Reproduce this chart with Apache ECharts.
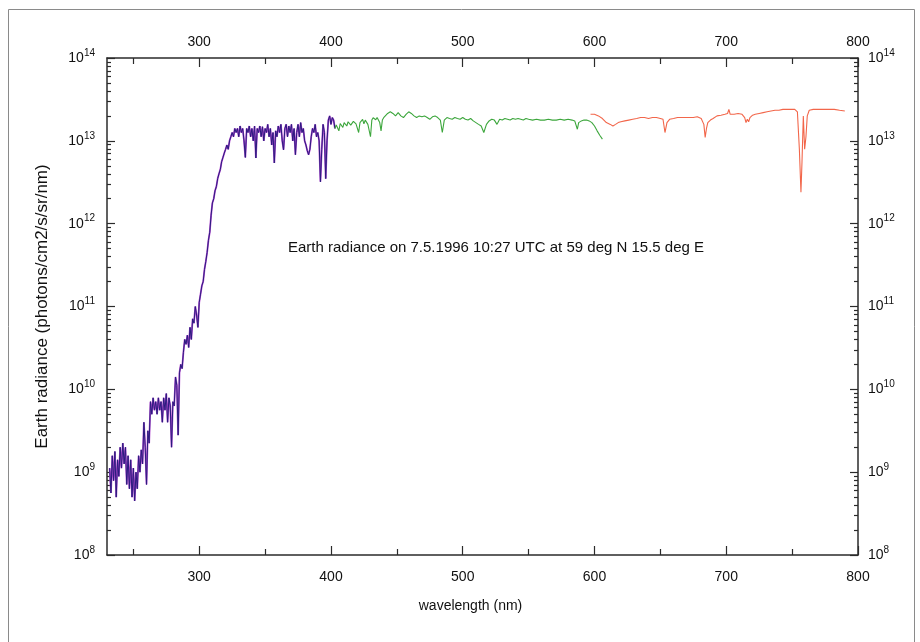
<!DOCTYPE html>
<html>
<head>
<meta charset="utf-8">
<script src="https://cdn.jsdelivr.net/npm/echarts@6/dist/echarts.min.js"></script>
<style>
html,body{margin:0;padding:0;background:#fff;}
#chart{width:920px;height:642px;}
</style>
</head>
<body>
<div id="chart"></div>
<script>
// ---------- data ----------
const xLabelValues = [300, 400, 500, 600, 700, 800];
const xMinorTickValues = [250, 350, 450, 550, 650, 750];
const yLabelValues = [1e8, 1e9, 1e10, 1e11, 1e12, 1e13, 1e14];
const yLabelExponents = ['8', '9', '10', '11', '12', '13', '14'];
const yMinorTickValues = [
  2e8,3e8,4e8,5e8,6e8,7e8,8e8,9e8,
  2e9,3e9,4e9,5e9,6e9,7e9,8e9,9e9,
  2e10,3e10,4e10,5e10,6e10,7e10,8e10,9e10,
  2e11,3e11,4e11,5e11,6e11,7e11,8e11,9e11,
  2e12,3e12,4e12,5e12,6e12,7e12,8e12,9e12,
  2e13,3e13,4e13,5e13,6e13,7e13,8e13,9e13
];

// UV channel (purple)
const uvWl = [232,233,234,235,236,237,238,239,240,241,242,243,244,245,246,247,248,249,250,
  251,252,253,254,255,256,257,258,259,260,261,262,263,264,265,266,267,268,269,270,
  271,272,273,274,275,276,277,278,279,280,281,282,283,284,285,286,287,288,289,290,
  291,292,293,294,295,296,297,298,299,300,301,302,303,304,305,306,307,308,309,310,
  311,312,313,314,315,316,317,318,319,320,321,322,323,324,325,326,327,328,329,330,
  331,332,333,334,335,336,337,338,339,340,341,342,343,344,345,346,347,348,349,350,
  351,352,353,354,355,356,357,358,359,360,361,362,363,364,365,366,367,368,369,370,
  371,372,373,374,375,376,377,378,379,380,381,382,383,384,385,386,387,388,389,390,
  391,392,393,394,395,396,397,398,399,400,401,402,403];
const uvVal = [1.12e9,5.6e8,1.58e9,7.9e8,1.78e9,5.0e8,1.41e9,8.9e8,2.0e9,1.12e9,2.24e9,1.26e9,2.0e9,7.1e8,1.58e9,6.3e8,1.41e9,5.0e8,1.12e9,
  4.5e8,1.0e9,6.3e8,1.58e9,1.0e9,1.86e9,1.26e9,4.0e9,2.0e9,7.1e8,3.16e9,2.24e9,7.1e9,5.0e9,7.9e9,5.6e9,7.1e9,5.0e9,7.9e9,5.6e9,
  7.1e9,4.0e9,7.9e9,5.6e9,8.9e9,4.0e9,7.9e9,6.3e9,2.0e9,7.1e9,6.3e9,1.41e10,1.12e10,2.8e9,1.58e10,2.0e10,1.78e10,2.8e10,4.0e10,3.5e10,
  4.5e10,3.2e10,5.6e10,4.0e10,7.1e10,6.3e10,1.0e11,7.9e10,5.6e10,1.12e11,1.41e11,1.78e11,2.0e11,2.8e11,3.5e11,4.5e11,6.3e11,7.9e11,1.26e12,1.78e12,
  2.0e12,2.5e12,2.8e12,3.5e12,4.0e12,4.5e12,5.6e12,6.3e12,7.1e12,7.9e12,8.9e12,7.9e12,1.0e13,1.12e13,1.26e13,1.12e13,1.41e13,1.26e13,1.41e13,1.12e13,
  1.51e13,1.26e13,1.41e13,1.0e13,6.3e12,1.41e13,1.26e13,1.51e13,1.12e13,1.41e13,1.0e13,1.51e13,6.2e12,1.41e13,1.26e13,1.51e13,1.12e13,1.48e13,1.0e13,1.41e13,
  1.26e13,1.58e13,1.12e13,1.41e13,8.9e12,1.26e13,5.4e12,1.32e13,1.12e13,1.51e13,1.26e13,1.58e13,1.0e13,7.8e12,1.41e13,1.58e13,1.12e13,1.51e13,1.26e13,1.58e13,
  1.0e13,1.41e13,6.8e12,1.26e13,1.58e13,1.12e13,1.66e13,1.26e13,1.41e13,1.0e13,8.9e12,7.6e12,6.8e12,7.9e12,1.12e13,1.41e13,1.26e13,1.58e13,1.12e13,1.26e13,
  1.0e13,3.2e12,7.9e12,1.58e13,1.26e13,3.5e12,1.0e13,1.78e13,2.0e13,1.58e13,1.91e13,1.78e13,1.41e13];

// visible channel (green)
const visWl = [403,404,405,406,407,408,409,410,411,412,413,414,415,416,417,418,419,420,421,422,423,424,425,426,427,428,429,430,431,432,433,434,435,436,437,438,439,440,
  441,443,445,447,449,451,453,455,457,459,461,463,465,467,469,471,473,475,477,479,481,483,484.5,
  486,488,490,492,494,496,498,500,502,504,506,508,510,512,514,516,517,518,520,522,524,526,527,528,530,
  532,534,536,538,540,542,544,546,548,550,553,556,559,562,565,568,571,574,577,580,583,585,587,588,
  590,592,594,596,598,600,602,604,606];
const visVal = [1.41e13,1.55e13,1.58e13,1.32e13,1.62e13,1.58e13,1.45e13,1.66e13,1.6e13,1.51e13,1.7e13,1.74e13,1.55e13,1.58e13,1.72e13,1.78e13,1.6e13,1.66e13,1.26e13,1.66e13,1.75e13,1.82e13,1.6e13,1.78e13,1.7e13,1.58e13,1.66e13,1.12e13,1.78e13,1.9e13,2.0e13,1.8e13,1.91e13,1.85e13,1.66e13,1.32e13,1.78e13,1.9e13,
  2.0e13,2.14e13,2.24e13,2.14e13,2.0e13,2.19e13,2.0e13,1.91e13,2.09e13,2.24e13,2.14e13,2.0e13,1.91e13,2.0e13,1.95e13,2.0e13,1.91e13,1.82e13,1.95e13,2.0e13,1.91e13,1.78e13,1.26e13,
  1.78e13,1.91e13,1.86e13,1.82e13,1.91e13,1.86e13,1.82e13,1.91e13,1.82e13,1.78e13,1.86e13,1.74e13,1.66e13,1.58e13,1.51e13,1.26e13,1.32e13,1.58e13,1.74e13,1.82e13,1.78e13,1.58e13,1.7e13,1.82e13,1.78e13,
  1.86e13,1.82e13,1.78e13,1.86e13,1.82e13,1.86e13,1.82e13,1.78e13,1.86e13,1.82e13,1.78e13,1.82e13,1.78e13,1.78e13,1.82e13,1.78e13,1.78e13,1.82e13,1.78e13,1.82e13,1.78e13,1.74e13,1.38e13,1.66e13,
  1.74e13,1.78e13,1.78e13,1.74e13,1.66e13,1.51e13,1.32e13,1.17e13,1.05e13];

// near-IR channel (red)
const irWl = [597,600,603,606,609,612,614,616,618,620,623,626,629,632,635,638,641,644,647,650,652,653.5,655,657,
  660,663,666,669,672,675,678,681,683,684,685,686,688,690,693,696,699,701,702,703,706,709,712,714,715,716,717,718,
  720,722,725,728,731,734,737,740,743,746,749,752,754,755.5,756.7,757.5,758.5,759.5,760.5,761.5,763,766,770,774,778,782,786,790];
const irVal = [2.09e13,2.09e13,2.0e13,1.86e13,1.66e13,1.58e13,1.51e13,1.58e13,1.66e13,1.70e13,1.74e13,1.78e13,1.82e13,1.86e13,1.91e13,1.91e13,1.86e13,1.91e13,1.91e13,1.86e13,1.82e13,1.26e13,1.66e13,1.82e13,
  1.86e13,1.91e13,1.91e13,1.91e13,1.91e13,1.91e13,1.95e13,1.86e13,1.58e13,1.10e13,1.41e13,1.66e13,1.78e13,1.86e13,2.0e13,2.04e13,2.09e13,2.14e13,2.40e13,2.09e13,2.09e13,2.14e13,2.09e13,1.91e13,1.66e13,1.82e13,1.70e13,1.91e13,
  2.04e13,2.09e13,2.14e13,2.19e13,2.24e13,2.29e13,2.34e13,2.34e13,2.40e13,2.40e13,2.40e13,2.40e13,2.24e13,7.9e12,2.4e12,5.6e12,2.0e13,7.9e12,1.12e13,2.0e13,2.34e13,2.40e13,2.40e13,2.40e13,2.40e13,2.40e13,2.34e13,2.29e13];

const annotation = 'Earth radiance on 7.5.1996 10:27 UTC at 59 deg N 15.5 deg E';
const xName = 'wavelength (nm)';
const yName = 'Earth radiance (photons/cm2/s/sr/nm)';

// ---------- chart ----------
const FONT = '"Liberation Sans", Arial, sans-serif';
const AXC = '#2b2b2b';
const pairs = (w, v) => w.map((x, i) => [x, v[i]]);
const expOf = v => yLabelExponents[yLabelValues.indexOf(v)] || '';

const richY = {
  b: {fontFamily: FONT, fontSize: 14, color: '#111'},
  s: {fontFamily: FONT, fontSize: 10, color: '#111', padding: [0, 0, 10, 0]}
};

function xAx(pos, major) {
  return {
    type: 'value', position: pos, min: 230, max: 800,
    axisLine: {show: major, onZero: false, lineStyle: {color: AXC, width: 1.5}},
    axisTick: {show: true, inside: true, length: major ? 9 : 6,
      customValues: major ? xLabelValues : xMinorTickValues,
      lineStyle: {color: AXC, width: 1.2}},
    axisLabel: {show: major, customValues: xLabelValues, margin: pos === 'bottom' ? 15 : 9,
      fontFamily: FONT, fontSize: 14, color: '#111'},
    splitLine: {show: false},
    name: (major && pos === 'bottom') ? xName : '',
    nameLocation: 'middle', nameGap: 44,
    nameTextStyle: {fontFamily: FONT, fontSize: 14, color: '#111', padding: [0, 24, 0, 0]}
  };
}
function yAx(pos, major) {
  return {
    type: 'log', logBase: 10, position: pos, min: 1e8, max: 1e14,
    axisLine: {show: major, onZero: false, lineStyle: {color: AXC, width: 1.5}},
    axisTick: {show: true, inside: true, length: major ? 8 : 4,
      customValues: major ? yLabelValues : yMinorTickValues,
      lineStyle: {color: AXC, width: 1.2}},
    axisLabel: {show: major, customValues: yLabelValues, margin: pos === 'left' ? 12 : 10,
      formatter: v => '{b|10}{s|' + expOf(v) + '}', rich: richY},
    splitLine: {show: false},
    name: (major && pos === 'left') ? yName : '',
    nameLocation: 'middle', nameGap: 56, nameRotate: 90,
    nameTextStyle: {fontFamily: FONT, fontSize: 17, color: '#111'}
  };
}

const chart = echarts.init(document.getElementById('chart'), null, {renderer: 'canvas'});
chart.setOption({
  animation: false,
  backgroundColor: '#ffffff',
  grid: {left: 107, right: 62, top: 58, bottom: 87, containLabel: false},
  xAxis: [xAx('bottom', true), xAx('bottom', false), xAx('top', true), xAx('top', false)],
  yAxis: [yAx('left', true), yAx('left', false), yAx('right', true), yAx('right', false)],
  graphic: [
    {type: 'rect', left: 6, top: 7, shape: {width: 906, height: 650},
      style: {fill: 'none', stroke: '#8a8a8a', lineWidth: 1}, silent: true},
    {type: 'text', x: 496, y: 248, style: {text: annotation, font: '15px ' + FONT,
      fill: '#111', align: 'center', verticalAlign: 'middle'}}
  ],
  series: [
    {type: 'line', data: pairs(uvWl, uvVal), showSymbol: false, xAxisIndex: 0, yAxisIndex: 0,
      lineStyle: {color: '#b24ad0', width: 1.8}, z: 2},
    {type: 'line', data: pairs(uvWl, uvVal), showSymbol: false, xAxisIndex: 0, yAxisIndex: 0,
      lineStyle: {color: '#2a1c7e', width: 1}, z: 3},
    {type: 'line', data: pairs(visWl, visVal), showSymbol: false, xAxisIndex: 0, yAxisIndex: 0,
      lineStyle: {color: '#3ca63c', width: 1.1}, z: 3},
    {type: 'line', data: pairs(irWl, irVal), showSymbol: false, xAxisIndex: 0, yAxisIndex: 0,
      lineStyle: {color: '#f2664a', width: 1.1}, z: 3}
  ]
});
</script>
</body>
</html>
